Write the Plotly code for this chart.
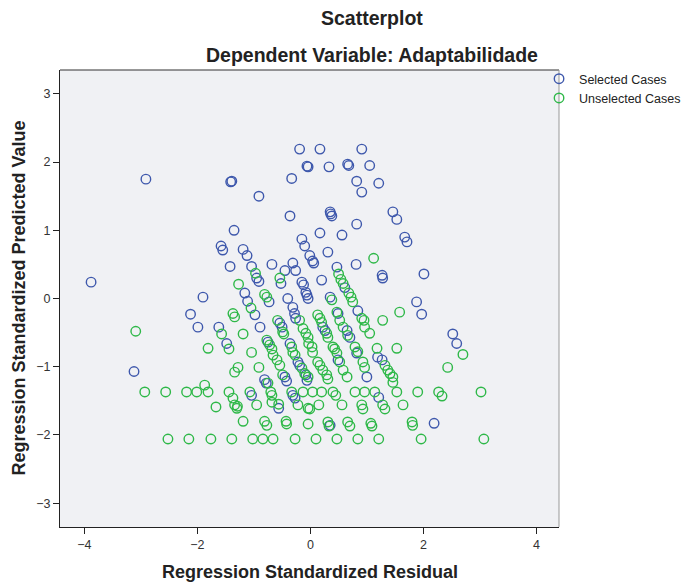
import plotly.graph_objects as go

# Standardized residual (x) vs standardized predicted value (y)
selected_resid = [
    -3.88, -2.91, -3.12, -0.19, 0.17, 0.91, -0.06, -0.04, 0.33, 0.66,
    0.68, 1.05, 0.82, 1.21, 0.91, 0.35, 0.36, 0.38, 1.46, 1.53,
    -0.33, -1.41, -1.39, -0.91, -0.36, -1.35, 0.82, 0.17, 0.56, -0.15,
    -0.10, -1.58, -1.55, -1.19, -1.12, 1.67, 1.71, 0.31, -0.01, 0.04,
    0.06, -1.42, -1.04, -0.68, -0.31, -0.45, -0.26, 0.81, 0.47, -0.95,
    -0.91, -0.52, -0.15, -0.12, 0.20, 0.61, 1.27, 1.28, 2.01, -0.08,
    -0.06, -0.04, -1.16, -1.11, -0.73, -0.40, 0.35, -1.90, -2.12, -0.31,
    -0.28, -0.26, -0.98, 0.84, 1.88, 1.97, 0.49, 0.22, 0.26, 0.65,
    0.70, -0.54, -0.50, -0.89, -1.99, -1.62, -1.48, -0.75, -0.36, -0.22,
    -0.19, 0.49, 0.82, 1.19, 1.27, 1.00, -0.81, -0.78, -0.45, -0.42,
    -0.08, -0.06, -1.04, -0.31, -0.27, 1.21, -0.56, 0.35, 2.19, 2.52,
    2.59,
]
selected_pred = [
    0.24, 1.75, -1.07, 2.19, 2.19, 2.19, 1.94, 1.93, 1.93, 1.97,
    1.95, 1.95, 1.72, 1.69, 1.56, 1.27, 1.24, 1.21, 1.27, 1.16,
    1.76, 1.71, 1.72, 1.50, 1.21, 1.00, 1.09, 0.96, 0.93, 0.87,
    0.77, 0.77, 0.71, 0.72, 0.63, 0.90, 0.83, 0.68, 0.63, 0.55,
    0.52, 0.47, 0.47, 0.50, 0.52, 0.41, 0.41, 0.50, 0.46, 0.30,
    0.25, 0.22, 0.24, 0.20, 0.27, 0.16, 0.34, 0.30, 0.36, 0.09,
    0.05, 0.00, 0.08, -0.04, -0.05, 0.00, 0.02, 0.02, -0.23, -0.13,
    -0.22, -0.29, -0.24, -0.18, -0.05, -0.23, -0.22, -0.42, -0.47, -0.47,
    -0.57, -0.36, -0.42, -0.42, -0.42, -0.42, -0.66, -0.64, -0.66, -0.93,
    -0.98, -0.90, -0.80, -0.86, -0.90, -1.15, -1.19, -1.24, -1.15, -1.21,
    -1.12, -1.20, -1.42, -1.42, -1.46, -1.45, -1.61, -1.86, -1.83, -0.52,
    -0.66,
]

unselected_resid = [
    # horizontal band at -1.37
    -2.93, -2.56, -2.19, -2.01, -1.81, -1.44, -1.07, -0.70, -0.33, -0.13,
    0.04, 0.20, 0.40, 0.79, 0.96, 1.14, 1.53, 1.90, 2.27, 3.02,
    -0.68, 0.45, 2.33, -1.87,
    # horizontal band at -2.06
    -2.52, -2.15, -1.76, -1.39, -1.02, -0.84, -0.66, -0.27, 0.10, 0.47,
    0.84, 1.21, 1.96, 3.07,
    # band near -1.57
    -1.67, -1.34, -1.30, -0.95, -0.22, -0.01, 0.15, 0.56, 0.91, 0.93,
    1.28, 1.32, 1.64, -0.56, -0.68, -1.37, -1.29, -0.04,
    # band near -1.83
    -1.19, -0.81, -0.77, -0.43, -0.42, -0.04, 0.31, 0.33, 0.66, 0.70,
    1.07, 1.09, 1.80, 1.81,
    # remaining cases
    -3.09, -1.57, -1.19, -1.81, -1.44, -1.04, -1.28, -0.91, -1.37, -1.34,
    -1.05, -0.97, -1.27, -0.81, -0.77, -0.54, -0.58, -0.49, -0.47, -0.19,
    -0.13, -0.08, -0.04, -0.03, 0.03, 0.04, 0.13, 0.17, 0.20, 0.29,
    0.31, 0.47, 0.52, 0.58, 0.66, 0.91, 0.95, 0.96, 1.05, 1.28,
    1.58, 1.53, -0.77, -0.72, -0.68, -0.66, -0.59, -0.54, -0.33, -0.31,
    -0.27, -0.15, -0.10, -0.04, 0.13, 0.17, 0.22, 0.29, 0.40, 0.43,
    0.47, 0.52, 0.58, 0.79, 0.93, 0.96, 1.18, 1.32, 1.37, 1.41,
    1.46, 1.46, -0.49, 0.65, 0.31, -1.34, -0.75, 1.12, 0.50, 0.54,
    0.58, 0.68, 0.72, 0.75, 0.38, 2.70, 2.43, 0.84,
]
unselected_pred = [
    -1.37, -1.37, -1.37, -1.37, -1.37, -1.37, -1.37, -1.37, -1.37, -1.37,
    -1.37, -1.37, -1.37, -1.37, -1.37, -1.37, -1.37, -1.37, -1.37, -1.37,
    -1.42, -1.42, -1.43, -1.27,
    -2.06, -2.06, -2.06, -2.06, -2.06, -2.06, -2.06, -2.06, -2.06, -2.06,
    -2.06, -2.06, -2.06, -2.06,
    -1.59, -1.56, -1.61, -1.56, -1.56, -1.62, -1.56, -1.56, -1.56, -1.62,
    -1.56, -1.62, -1.56, -1.55, -1.52, -1.46, -1.58, -1.61,
    -1.80, -1.80, -1.86, -1.80, -1.84, -1.84, -1.81, -1.87, -1.81, -1.87,
    -1.83, -1.87, -1.81, -1.86,
    -0.48, -0.52, -0.52, -0.73, -0.74, -0.79, -1.01, -1.01, -0.22, -0.27,
    -0.14, 0.37, 0.21, 0.06, 0.02, 0.30, -0.32, -0.49, -0.52, -0.32,
    -0.44, -0.51, -0.57, -0.66, -0.71, -0.79, -0.24, -0.29, -0.35, -0.51,
    -0.57, -0.20, -0.32, -0.42, -0.54, -0.29, -0.32, -0.42, -0.51, -0.32,
    -0.20, -0.73, -0.61, -0.68, -0.74, -0.83, -0.90, -0.98, -0.71, -0.79,
    -0.83, -1.02, -1.10, -1.15, -0.93, -0.98, -1.05, -1.12, -0.71, -0.74,
    -0.80, -0.93, -1.05, -0.71, -0.93, -1.01, -0.73, -0.98, -1.05, -1.10,
    -1.15, -1.23, -1.12, -1.15, -1.18, -1.08, -1.24, 0.59, 0.36, 0.28,
    0.22, 0.08, 0.02, -0.05, -0.02, -0.82, -1.01, -0.78,
]

x_ticks = [-4, -2, 0, 2, 4]
y_ticks = [-3, -2, -1, 0, 1, 2, 3]

FONT = "Liberation Sans, Arial, sans-serif"
BLUE = "#3E58AC"
GREEN = "#2EB848"

fig = go.Figure()
fig.add_trace(go.Scatter(
    x=selected_resid, y=selected_pred, mode="markers", name="Selected Cases",
    marker=dict(symbol="circle-open", size=9.5, color=BLUE, line=dict(width=1.4, color=BLUE)),
))
fig.add_trace(go.Scatter(
    x=unselected_resid, y=unselected_pred, mode="markers", name="Unselected Cases",
    marker=dict(symbol="circle-open", size=9.5, color=GREEN, line=dict(width=1.4, color=GREEN)),
))

axis_common = dict(
    showgrid=False, zeroline=False, showline=True, linecolor="#222", linewidth=1.2,
    ticks="outside", ticklen=6, tickcolor="#222", tickwidth=1,
    tickfont=dict(family=FONT, size=12.5, color="#333"),
    mirror=False,
)

fig.update_layout(
    width=686, height=585,
    margin=dict(l=60, r=127, t=70, b=58, autoexpand=False),
    paper_bgcolor="white",
    plot_bgcolor="#F0F1F4",
    font=dict(family=FONT, color="#222"),
    xaxis=dict(range=[-4.43, 4.40], tickvals=x_ticks, **axis_common),
    yaxis=dict(range=[-3.35, 3.35], tickvals=y_ticks, **axis_common),
    legend=dict(
        x=0.96, xanchor="left", y=1.013, yanchor="top",
        font=dict(family=FONT, size=12.5, color="#222"),
        bgcolor="rgba(0,0,0,0)", tracegroupgap=0, itemwidth=30,
    ),
    showlegend=True,
)

# Frame on the top and right edges of the plotting area
fig.add_shape(type="line", xref="paper", yref="paper", x0=0, x1=1, y0=1, y1=1,
              line=dict(color="#333", width=1.2))
fig.add_shape(type="line", xref="paper", yref="paper", x0=1, x1=1, y0=0, y1=1,
              line=dict(color="#999", width=1))

annotations = [
    dict(text="<b>Scatterplot</b>", x=0.625, y=1.0, xref="paper", yref="paper",
         xanchor="center", yanchor="middle", yshift=52, showarrow=False,
         font=dict(family=FONT, size=19.5, color="#222")),
    dict(text="<b>Dependent Variable: Adaptabilidade</b>", x=0.625, y=1.0,
         xref="paper", yref="paper", xanchor="center", yanchor="middle", yshift=15,
         showarrow=False, font=dict(family=FONT, size=19.5, color="#222")),
    dict(text="<b>Regression Standardized Residual</b>", x=0.5, y=0, xref="paper",
         yref="paper", xanchor="center", yanchor="middle", yshift=-45, showarrow=False,
         font=dict(family=FONT, size=18, color="#222")),
    dict(text="<b>Regression Standardized Predicted Value</b>", x=0, y=0.5,
         xref="paper", yref="paper", xanchor="center", yanchor="middle", xshift=-42,
         textangle=-90, showarrow=False,
         font=dict(family=FONT, size=18, color="#222")),
]
fig.update_layout(annotations=annotations)

fig.write_html("out.html")
